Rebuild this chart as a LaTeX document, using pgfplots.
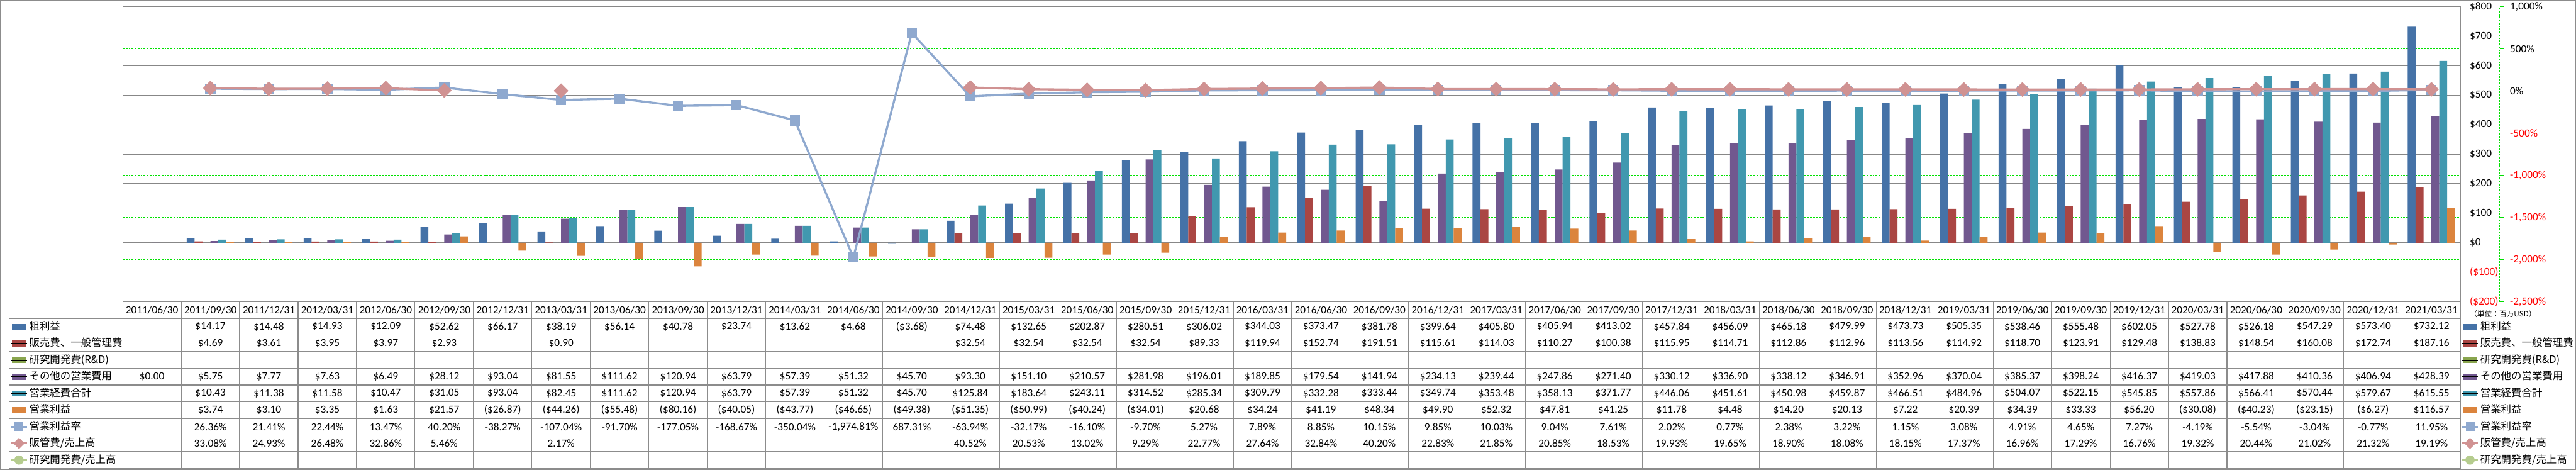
\documentclass[border=0pt]{standalone}
\usepackage{pgfplots}
\pgfplotsset{compat=1.18}
\usepackage{pgfplotstable}
\usepackage{fontspec}
\setmainfont{Carlito}
\newfontfamily\jp{Noto Sans CJK JP}
\definecolor{cGP}{HTML}{4572A7}
\definecolor{cSGA}{HTML}{AA4643}
\definecolor{cRD}{HTML}{89A54E}
\definecolor{cOTH}{HTML}{71588F}
\definecolor{cTOT}{HTML}{4198AF}
\definecolor{cOI}{HTML}{DB843D}
\definecolor{cOIM}{HTML}{8FA9CF}
\definecolor{cSGAP}{HTML}{D09292}
\definecolor{cRDP}{HTML}{B5CC8E}
\definecolor{gridgray}{HTML}{878787}
\definecolor{gridgreen}{HTML}{00E000}
\definecolor{tblgray}{HTML}{8C8C8C}

\pgfplotstableread{
x gp sga oth tot oi oim sgap
0 nan nan 0.00 nan nan nan nan
1 14.17 4.69 5.75 10.43 3.74 26.36 33.08
2 14.48 3.61 7.77 11.38 3.10 21.41 24.93
3 14.93 3.95 7.63 11.58 3.35 22.44 26.48
4 12.09 3.97 6.49 10.47 1.63 13.47 32.86
5 52.62 2.93 28.12 31.05 21.57 40.20 5.46
6 66.17 nan 93.04 93.04 -26.87 -38.27 nan
7 38.19 0.90 81.55 82.45 -44.26 -107.04 2.17
8 56.14 nan 111.62 111.62 -55.48 -91.70 nan
9 40.78 nan 120.94 120.94 -80.16 -177.05 nan
10 23.74 nan 63.79 63.79 -40.05 -168.67 nan
11 13.62 nan 57.39 57.39 -43.77 -350.04 nan
12 4.68 nan 51.32 51.32 -46.65 -1974.81 nan
13 -3.68 nan 45.70 45.70 -49.38 687.31 nan
14 74.48 32.54 93.30 125.84 -51.35 -63.94 40.52
15 132.65 32.54 151.10 183.64 -50.99 -32.17 20.53
16 202.87 32.54 210.57 243.11 -40.24 -16.10 13.02
17 280.51 32.54 281.98 314.52 -34.01 -9.70 9.29
18 306.02 89.33 196.01 285.34 20.68 5.27 22.77
19 344.03 119.94 189.85 309.79 34.24 7.89 27.64
20 373.47 152.74 179.54 332.28 41.19 8.85 32.84
21 381.78 191.51 141.94 333.44 48.34 10.15 40.20
22 399.64 115.61 234.13 349.74 49.90 9.85 22.83
23 405.80 114.03 239.44 353.48 52.32 10.03 21.85
24 405.94 110.27 247.86 358.13 47.81 9.04 20.85
25 413.02 100.38 271.40 371.77 41.25 7.61 18.53
26 457.84 115.95 330.12 446.06 11.78 2.02 19.93
27 456.09 114.71 336.90 451.61 4.48 0.77 19.65
28 465.18 112.86 338.12 450.98 14.20 2.38 18.90
29 479.99 112.96 346.91 459.87 20.13 3.22 18.08
30 473.73 113.56 352.96 466.51 7.22 1.15 18.15
31 505.35 114.92 370.04 484.96 20.39 3.08 17.37
32 538.46 118.70 385.37 504.07 34.39 4.91 16.96
33 555.48 123.91 398.24 522.15 33.33 4.65 17.29
34 602.05 129.48 416.37 545.85 56.20 7.27 16.76
35 527.78 138.83 419.03 557.86 -30.08 -4.19 19.32
36 526.18 148.54 417.88 566.41 -40.23 -5.54 20.44
37 547.29 160.08 410.36 570.44 -23.15 -3.04 21.02
38 573.40 172.74 406.94 579.67 -6.27 -0.77 21.32
39 732.12 187.16 428.39 615.55 116.57 11.95 19.19
}\data

\pgfplotsset{
  base/.style={at={(0pt,0pt)}, anchor=south west, scale only axis,
    width=1333.25pt, height=168.25pt, xmin=-0.5, xmax=39.5},
  barkey/.style={legend image code/.code={\fill[#1] (0.5pt,-1.5pt) rectangle (8.5pt,1.5pt); \path (0pt,0pt) -- (9pt,0pt);}},
  linekey/.style={legend image code/.code={\draw[mark repeat=2,mark phase=2,##1] plot coordinates {(0pt,0pt) (4.5pt,0pt) (9pt,0pt)};}},
  keylegend/.style={legend cell align=left,
    legend style={at={(#1,-0.056464)}, anchor=north west, draw=none, fill=none,
      inner sep=0pt, outer sep=0pt, /tikz/row sep=0pt, /tikz/column sep=0.75pt,
      font=\jp\fontsize{5.9}{7}\selectfont,
      nodes={inner sep=0pt, minimum height=9.5pt}}},
}
\newcommand\allkeys{%
  \addlegendimage{barkey=cGP}\addlegendentry{粗利益}
  \addlegendimage{barkey=cSGA}\addlegendentry{販売費、一般管理費}
  \addlegendimage{barkey=cRD}\addlegendentry{研究開発費(R\&D)}
  \addlegendimage{barkey=cOTH}\addlegendentry{その他の営業費用}
  \addlegendimage{barkey=cTOT}\addlegendentry{営業経費合計}
  \addlegendimage{barkey=cOI}\addlegendentry{営業利益}
  \addlegendimage{linekey, cOIM, line width=1.2pt, mark=square*, mark size=2.3pt, mark options={line width=0.3pt, rounded corners=0.6pt}}\addlegendentry{営業利益率}
  \addlegendimage{linekey, cSGAP, line width=1.2pt, mark=square*, mark size=2.1pt, mark options={rotate=45, line width=0.3pt}}\addlegendentry{販管費/売上高}
  \addlegendimage{linekey, cRDP, line width=1.2pt, mark=*, mark size=2.5pt, mark options={line width=0.3pt}}\addlegendentry{研究開発費/売上高}
}
\newcommand\tblfont{\fontsize{6.2}{7}\selectfont}
\newcommand\tblrow[2]{\foreach \t [count=\j from 0] in {#2} {\node[font=\tblfont, inner sep=0pt] at ({(\j+0.5)*33.33125pt},#1) {\t};}}

\begin{document}
\begin{tikzpicture}
\useasboundingbox (-70pt,-95.75pt) rectangle (1399pt,172pt);

% Axis A: percent grid, percent labels, right legend
\begin{axis}[base, ymin=-2500, ymax=1000, axis line style={draw=none}, xtick=\empty,
  ytick={-2500,-2000,-1500,-1000,-500,0,500,1000}, ymajorgrids,
  major grid style={gridgreen, line width=0.35pt, dash pattern=on 1pt off 0.7pt},
  major tick length=0pt, yticklabel pos=right,
  yticklabels={{\textcolor{red}{-2,500\%}},{\textcolor{red}{-2,000\%}},{\textcolor{red}{-1,500\%}},{\textcolor{red}{-1,000\%}},{\textcolor{red}{-500\%}},0\%,500\%,{1,000\%}},
  yticklabel style={anchor=west, inner sep=0pt, xshift=28pt, font=\tblfont},
  keylegend=1.0002]
\allkeys
\end{axis}

% Axis B: dollar grid, bars
\begin{axis}[base, ymin=-200, ymax=800, axis line style={draw=none},
  ytick={-200,-100,0,100,200,300,400,500,600,700,800}, ymajorgrids,
  major grid style={gridgray, line width=0.4pt},
  major tick length=0pt, yticklabel pos=right,
  yticklabels={{\textcolor{red}{(\$200)}},{\textcolor{red}{(\$100)}},\$0,\$100,\$200,\$300,\$400,\$500,\$600,\$700,\$800},
  yticklabel style={anchor=west, inner sep=0pt, xshift=5pt, font=\tblfont},
  xtick={0,...,39},
  xticklabels={2011/06/30,2011/09/30,2011/12/31,2012/03/31,2012/06/30,2012/09/30,2012/12/31,2013/03/31,2013/06/30,2013/09/30,2013/12/31,2014/03/31,2014/06/30,2014/09/30,2014/12/31,2015/03/31,2015/06/30,2015/09/30,2015/12/31,2016/03/31,2016/06/30,2016/09/30,2016/12/31,2017/03/31,2017/06/30,2017/09/30,2017/12/31,2018/03/31,2018/06/30,2018/09/30,2018/12/31,2019/03/31,2019/06/30,2019/09/30,2019/12/31,2020/03/31,2020/06/30,2020/09/30,2020/12/31,2021/03/31},
  xticklabel style={anchor=center, inner sep=0pt, yshift=-4.75pt, font=\tblfont}]
\addplot[ybar, bar width=4.5pt, bar shift=-11.25pt, fill=cGP, draw=none] table[x=x,y=gp]{\data};
\addplot[ybar, bar width=4.5pt, bar shift=-6.75pt, fill=cSGA, draw=none] table[x=x,y=sga]{\data};
\addplot[ybar, bar width=4.5pt, bar shift=2.25pt, fill=cOTH, draw=none] table[x=x,y=oth]{\data};
\addplot[ybar, bar width=4.5pt, bar shift=6.75pt, fill=cTOT, draw=none] table[x=x,y=tot]{\data};
\addplot[ybar, bar width=4.5pt, bar shift=11.25pt, fill=cOI, draw=none] table[x=x,y=oi]{\data};
\end{axis}

% Axis C: ratio lines
\begin{axis}[base, ymin=-2500, ymax=1000, hide axis, unbounded coords=jump]
\addplot[cOIM, line width=1.2pt, mark=square*, mark size=2.75pt, mark options={line width=0.3pt, rounded corners=0.8pt}] table[x=x,y=oim]{\data};
\addplot[cSGAP, line width=1.2pt, mark=square*, mark size=2.83pt, mark options={rotate=45, line width=0.3pt}] table[x=x,y=sgap]{\data};
\end{axis}

% Axis D: left row labels
\begin{axis}[base, ymin=0, ymax=1, hide axis, keylegend=-0.04819]
\allkeys
\end{axis}

% secondary axis line
\draw[gridgreen, line width=0.35pt, dash pattern=on 1pt off 0.7pt] (1355.5pt,0pt) -- (1355.5pt,168.25pt);
\foreach \k in {0,...,7} \draw[gridgreen, line width=0.35pt] (1355.5pt,{\k*24.0357pt}) -- (1357.7pt,{\k*24.0357pt});

% table grid
\begin{scope}[tblgray, line width=0.4pt]
\draw (0pt,0pt) -- (1333.25pt,0pt);
\foreach \k in {0,...,9} \draw (-64.75pt,{-9.5pt-9.5pt*\k}) -- (1333.25pt,{-9.5pt-9.5pt*\k});
\foreach \j in {0,...,39} \draw ({\j*33.33125pt},0pt) -- ({\j*33.33125pt},-95pt);
\draw (1333.25pt,168.25pt) -- (1333.25pt,-95pt);
\draw (-64.75pt,-9.5pt) -- (-64.75pt,-95pt);
\end{scope}

\tblrow{-14.25pt}{{},\$14.17,\$14.48,\$14.93,\$12.09,\$52.62,\$66.17,\$38.19,\$56.14,\$40.78,\$23.74,\$13.62,\$4.68,(\$3.68),\$74.48,\$132.65,\$202.87,\$280.51,\$306.02,\$344.03,\$373.47,\$381.78,\$399.64,\$405.80,\$405.94,\$413.02,\$457.84,\$456.09,\$465.18,\$479.99,\$473.73,\$505.35,\$538.46,\$555.48,\$602.05,\$527.78,\$526.18,\$547.29,\$573.40,\$732.12}
\tblrow{-23.75pt}{{},\$4.69,\$3.61,\$3.95,\$3.97,\$2.93,{},\$0.90,{},{},{},{},{},{},\$32.54,\$32.54,\$32.54,\$32.54,\$89.33,\$119.94,\$152.74,\$191.51,\$115.61,\$114.03,\$110.27,\$100.38,\$115.95,\$114.71,\$112.86,\$112.96,\$113.56,\$114.92,\$118.70,\$123.91,\$129.48,\$138.83,\$148.54,\$160.08,\$172.74,\$187.16}
\tblrow{-42.75pt}{\$0.00,\$5.75,\$7.77,\$7.63,\$6.49,\$28.12,\$93.04,\$81.55,\$111.62,\$120.94,\$63.79,\$57.39,\$51.32,\$45.70,\$93.30,\$151.10,\$210.57,\$281.98,\$196.01,\$189.85,\$179.54,\$141.94,\$234.13,\$239.44,\$247.86,\$271.40,\$330.12,\$336.90,\$338.12,\$346.91,\$352.96,\$370.04,\$385.37,\$398.24,\$416.37,\$419.03,\$417.88,\$410.36,\$406.94,\$428.39}
\tblrow{-52.25pt}{{},\$10.43,\$11.38,\$11.58,\$10.47,\$31.05,\$93.04,\$82.45,\$111.62,\$120.94,\$63.79,\$57.39,\$51.32,\$45.70,\$125.84,\$183.64,\$243.11,\$314.52,\$285.34,\$309.79,\$332.28,\$333.44,\$349.74,\$353.48,\$358.13,\$371.77,\$446.06,\$451.61,\$450.98,\$459.87,\$466.51,\$484.96,\$504.07,\$522.15,\$545.85,\$557.86,\$566.41,\$570.44,\$579.67,\$615.55}
\tblrow{-61.75pt}{{},\$3.74,\$3.10,\$3.35,\$1.63,\$21.57,(\$26.87),(\$44.26),(\$55.48),(\$80.16),(\$40.05),(\$43.77),(\$46.65),(\$49.38),(\$51.35),(\$50.99),(\$40.24),(\$34.01),\$20.68,\$34.24,\$41.19,\$48.34,\$49.90,\$52.32,\$47.81,\$41.25,\$11.78,\$4.48,\$14.20,\$20.13,\$7.22,\$20.39,\$34.39,\$33.33,\$56.20,(\$30.08),(\$40.23),(\$23.15),(\$6.27),\$116.57}
\tblrow{-71.25pt}{{},26.36\%,21.41\%,22.44\%,13.47\%,40.20\%,-38.27\%,-107.04\%,-91.70\%,-177.05\%,-168.67\%,-350.04\%,{-1,974.81\%},687.31\%,-63.94\%,-32.17\%,-16.10\%,-9.70\%,5.27\%,7.89\%,8.85\%,10.15\%,9.85\%,10.03\%,9.04\%,7.61\%,2.02\%,0.77\%,2.38\%,3.22\%,1.15\%,3.08\%,4.91\%,4.65\%,7.27\%,-4.19\%,-5.54\%,-3.04\%,-0.77\%,11.95\%}
\tblrow{-80.75pt}{{},33.08\%,24.93\%,26.48\%,32.86\%,5.46\%,{},2.17\%,{},{},{},{},{},{},40.52\%,20.53\%,13.02\%,9.29\%,22.77\%,27.64\%,32.84\%,40.20\%,22.83\%,21.85\%,20.85\%,18.53\%,19.93\%,19.65\%,18.90\%,18.08\%,18.15\%,17.37\%,16.96\%,17.29\%,16.76\%,19.32\%,20.44\%,21.02\%,21.32\%,19.19\%}

\node[anchor=west, inner sep=0pt, font=\jp\fontsize{4.2}{5}\selectfont] at (1338.25pt,-7pt) {（単位：百万USD）};

\draw[tblgray, line width=0.5pt] (-69.75pt,-95.5pt) rectangle (1398.75pt,171.75pt);
\end{tikzpicture}
\end{document}
